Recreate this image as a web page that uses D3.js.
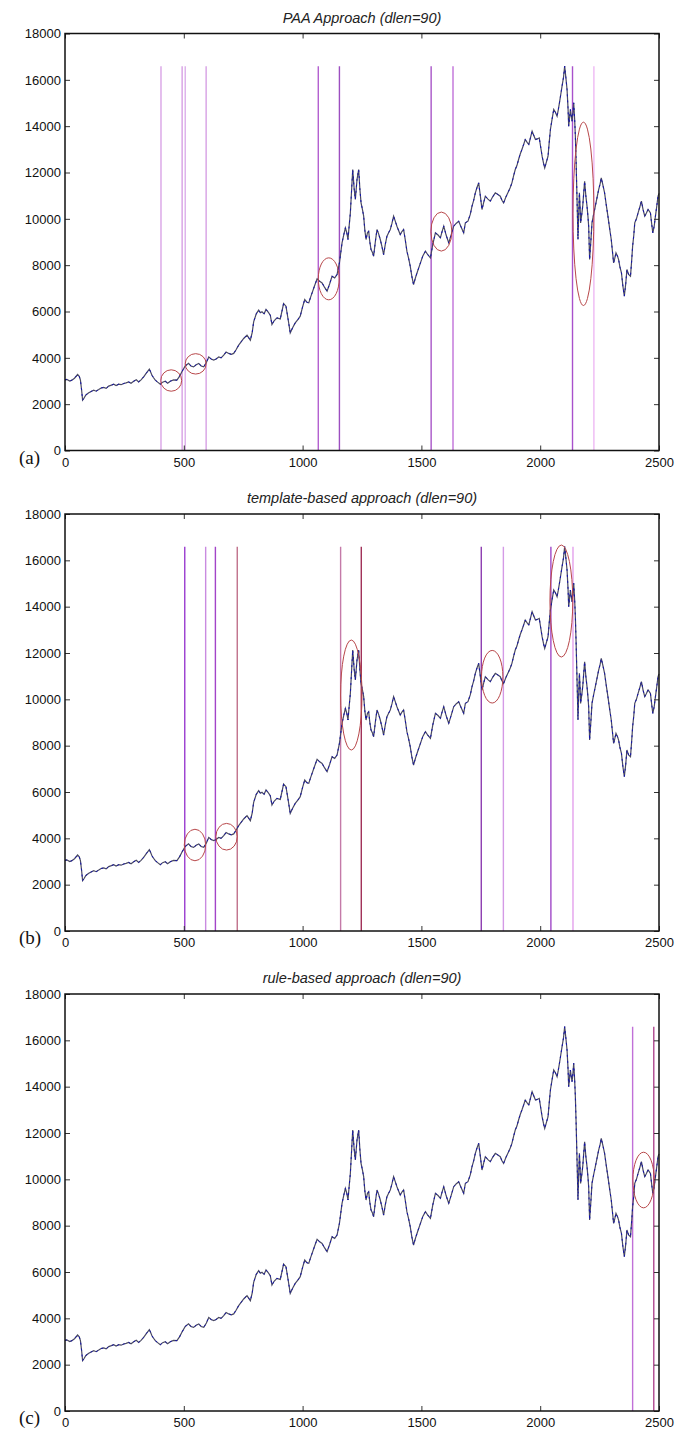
<!DOCTYPE html>
<html>
<head>
<meta charset="utf-8">
<title>dlen=90</title>
<script src="https://d3js.org/d3.v7.min.js"></script>
<style>
  body { margin: 0; background: #fff; }
  svg { display: block; }
  .tick text { font-family: "Liberation Sans", Arial, sans-serif; font-size: 13px; fill: #111; }
  .tick line { stroke: #333; }
</style>
</head>
<body>
<script>
// series (day index, index level)
var day = [0, 8, 20, 29, 40, 53, 60, 65, 70, 74, 79, 88, 100, 110, 121, 131, 142, 152, 163, 173,
  184, 195, 205, 215, 226, 236, 247, 257, 268, 278, 289, 300, 310, 320, 331, 343, 355, 360, 366, 372,
  380, 390, 401, 411, 422, 432, 443, 457, 471, 482, 492, 506, 520, 530, 541, 552, 563, 573, 584, 595,
  605, 615, 626, 636, 647, 657, 668, 678, 689, 700, 710, 720, 731, 742, 752, 766, 773, 780, 788, 794,
  805, 815, 822, 829, 838, 846, 856, 864, 871, 880, 892, 906, 915, 920, 930, 940, 948, 958, 969, 980,
  990, 1000, 1009, 1018, 1026, 1033, 1040, 1050, 1061, 1072, 1082, 1092, 1103, 1114, 1124, 1135, 1145, 1155, 1166, 1173,
  1180, 1186, 1191, 1196, 1201, 1206, 1211, 1217, 1222, 1229, 1236, 1241, 1246, 1252, 1257, 1262, 1267, 1273, 1278, 1283,
  1288, 1294, 1299, 1306, 1313, 1320, 1327, 1334, 1341, 1348, 1355, 1362, 1369, 1376, 1383, 1390, 1397, 1404, 1411, 1418,
  1425, 1432, 1439, 1446, 1453, 1460, 1467, 1472, 1477, 1486, 1496, 1506, 1517, 1527, 1538, 1548, 1559, 1570, 1580, 1587,
  1594, 1604, 1615, 1625, 1636, 1646, 1657, 1667, 1678, 1685, 1696, 1706, 1713, 1720, 1727, 1734, 1741, 1748, 1755, 1762,
  1769, 1780, 1790, 1800, 1811, 1822, 1832, 1839, 1846, 1856, 1867, 1874, 1881, 1888, 1895, 1902, 1909, 1916, 1923, 1930,
  1937, 1945, 1952, 1959, 1966, 1973, 1980, 1988, 1996, 2002, 2008, 2014, 2019, 2026, 2033, 2038, 2043, 2050, 2057, 2064,
  2071, 2076, 2081, 2087, 2092, 2098, 2103, 2108, 2113, 2117, 2120, 2124, 2127, 2130, 2134, 2138, 2141, 2145, 2148, 2151,
  2154, 2157, 2159, 2162, 2165, 2168, 2170, 2175, 2179, 2183, 2187, 2192, 2197, 2201, 2204, 2208, 2213, 2218, 2225, 2232,
  2239, 2246, 2252, 2257, 2264, 2271, 2278, 2285, 2292, 2299, 2304, 2309, 2314, 2319, 2325, 2330, 2336, 2342, 2348, 2354,
  2360, 2365, 2372, 2380, 2385, 2389, 2394, 2398, 2405, 2412, 2419, 2426, 2433, 2440, 2447, 2454, 2459, 2464, 2469, 2474,
  2480, 2485, 2490, 2496, 2500];
var price = [3050, 3065, 3000, 3036, 3120, 3280, 3200, 3036, 2600, 2173, 2245, 2400, 2490, 2550, 2600, 2560, 2630, 2700, 2720, 2680,
  2780, 2820, 2860, 2800, 2860, 2840, 2890, 2920, 2960, 2900, 2990, 3050, 2960, 3050, 3180, 3350, 3510, 3400, 3250, 3150,
  3036, 2950, 2860, 2950, 2990, 2900, 2990, 3050, 3036, 3200, 3400, 3650, 3760, 3650, 3610, 3700, 3760, 3650, 3610, 3800,
  4040, 3950, 3900, 3950, 4040, 4000, 4115, 4250, 4190, 4150, 4190, 4350, 4550, 4700, 4835, 4980, 4870, 4760, 5100, 5555,
  5900, 6060, 5950, 5990, 5900, 6090, 5960, 5840, 5437, 5600, 5725, 5680, 6100, 6345, 6230, 5600, 5078, 5300, 5510, 5650,
  5800, 6200, 6517, 6400, 6373, 6600, 6805, 7100, 7409, 7300, 7236, 7050, 6877, 7200, 7524, 7450, 7596, 8100, 8963, 9300,
  9610, 9400, 9107, 9700, 10258, 11200, 12128, 11300, 10833, 11697, 12128, 11300, 10690, 10400, 10114, 9500, 9107, 9400, 9466, 9000,
  8675, 8550, 8387, 9000, 9539, 9350, 9107, 8800, 8459, 8900, 9251, 9400, 9539, 9800, 10114, 9900, 9683, 9500, 9323, 9450,
  9539, 9100, 8603, 8300, 7956, 7500, 7164, 7350, 7524, 7800, 8100, 8400, 8603, 8450, 8315, 8900, 9395, 9300, 9179, 9450,
  9683, 9300, 8963, 9300, 9683, 9800, 9898, 9650, 9395, 9826, 9898, 10200, 10546, 10800, 11121, 11350, 11553, 11000, 10402, 10700,
  10978, 10850, 10762, 10950, 11121, 11050, 10978, 10800, 10690, 10950, 11193, 11350, 11553, 11850, 12128, 12300, 12560, 12800, 12992, 13200,
  13424, 13300, 13208, 13500, 13784, 13600, 13424, 13450, 13496, 13100, 12704, 12400, 12200, 12450, 12704, 13300, 13856, 14300, 14719, 14600,
  14431, 14700, 15007, 15400, 15726, 16100, 16590, 16100, 15582, 14800, 14000, 14400, 14719, 14500, 14215, 14600, 15007, 14300, 13568, 12500,
  11265, 10000, 9107, 10200, 11121, 10500, 9826, 10200, 10546, 11100, 11625, 11000, 10546, 10100, 9683, 8243, 9000, 9826, 10200, 10546,
  10900, 11265, 11500, 11769, 11450, 11121, 10600, 10114, 9600, 9107, 8600, 8099, 8300, 8531, 8400, 8243, 7900, 7668, 7100, 6661,
  7200, 7812, 7600, 7524, 8200, 8819, 9300, 9826, 10000, 10258, 10500, 10762, 10400, 10114, 10250, 10402, 10330, 10258, 9800, 9395,
  9700, 10114, 10500, 10978, 11100];

// tick labels
var xTicks = [0, 500, 1000, 1500, 2000, 2500];
var yTicks = [0, 2000, 4000, 6000, 8000, 10000, 12000, 14000, 16000, 18000];

// panel titles and letters
var titles = ["PAA Approach (dlen=90)", "template-based approach (dlen=90)", "rule-based approach (dlen=90)"];
var letters = ["(a)", "(b)", "(c)"];

// detected segment boundaries per panel (day index)
var marksA = [404, 493, 506, 594, 1066, 1155, 1541, 1633, 2136, 2226];
var marksB = [504, 592, 633, 725, 1160, 1247, 1752, 1845, 2045, 2138];
var marksC = [2389, 2478];

// highlighted regions: [centre day, centre level, half width (days), half height (level)]
var circlesA = [[447, 3021, 44, 462], [550, 3740, 44, 440], [1110, 7410, 44, 906], [1584, 9450, 44, 842], [2182, 10215, 44, 3958]];
var circlesB = [[547, 3712, 45, 680], [680, 4070, 45, 575], [1205, 10186, 45, 2374], [1798, 10976, 45, 1135], [2089, 14243, 48, 2417]];
var circlesC = [[2435, 9970, 45, 1200]];

var colorsA = ["#d9a3e6", "#d7a0e4", "#dcaeea", "#d6a0e4", "#b35fd0", "#9c4fc0", "#a855c8", "#c070d8", "#a851cc", "#eeb8f4"];
var colorsB = ["#9a3ccf", "#c98be0", "#a244c8", "#c0708a", "#c47aa8", "#a03058", "#8c3cb0", "#d49ae6", "#a048c8", "#e4a0ec"];
var colorsC = ["#c070d8", "#b04890"];

var W = 684, H = 1429;
var left = 65, right = 659;

var svg = d3.select("body").append("svg")
    .attr("width", W)
    .attr("height", H);

var series = d3.zip(day, price);
var topLevel = d3.max(price);

drawPanel(33.5, titles[0], letters[0], marksA, colorsA, circlesA);
drawPanel(514, titles[1], letters[1], marksB, colorsB, circlesB);
drawPanel(994, titles[2], letters[2], marksC, colorsC, circlesC);

function drawPanel(top, title, letter, marks, colors, circles){

    var bottom = top + 417;
    var g = svg.append("g");

    var x = d3.scaleLinear().domain([0, 2500]).range([left, right]);
    var y = d3.scaleLinear().domain([0, 18000]).range([bottom, top]);

    // title
    g.append("text")
        .text(title)
        .attr("x", (left + right) / 2)
        .attr("y", top - 11)
        .attr("text-anchor", "middle")
        .attr("font-family", "Liberation Sans, Arial, sans-serif")
        .attr("font-style", "italic")
        .attr("font-size", "14.5px")
        .attr("fill", "#222");

    // vertical segment markers
    g.selectAll(".mark")
        .data(marks)
        .enter()
        .append("line")
        .attr("class", "mark")
        .attr("x1", function(d) { return x(d); })
        .attr("x2", function(d) { return x(d); })
        .attr("y1", y(0))
        .attr("y2", y(topLevel))
        .attr("stroke", function(d, i) { return colors[i]; })
        .attr("stroke-width", 1.4);

    // the series
    var line = d3.line()
        .x(function(d) { return x(d[0]); })
        .y(function(d) { return y(d[1]); });

    g.append("path")
        .datum(series)
        .attr("d", line)
        .attr("fill", "none")
        .attr("stroke", "#4a4a62")
        .attr("stroke-width", 1.2);

    g.append("path")
        .datum(series)
        .attr("d", line)
        .attr("fill", "none")
        .attr("stroke", "#1010b0")
        .attr("stroke-width", 1)
        .attr("stroke-dasharray", "2,4");

    // highlighted regions
    g.selectAll(".ring")
        .data(circles)
        .enter()
        .append("ellipse")
        .attr("class", "ring")
        .attr("cx", function(d) { return x(d[0]); })
        .attr("cy", function(d) { return y(d[1]); })
        .attr("rx", function(d) { return x(d[2]) - x(0); })
        .attr("ry", function(d) { return y(0) - y(d[3]); })
        .attr("fill", "none")
        .attr("stroke", "#b8474a")
        .attr("stroke-width", 1);

    // axes, ticks pointing inwards
    var fmt = d3.format("d");

    g.append("g")
        .attr("transform", "translate(0," + bottom + ")")
        .call(d3.axisBottom(x).tickValues(xTicks).tickFormat(fmt).tickSize(-5).tickPadding(7))
        .call(function(a) { a.select(".domain").remove(); });

    g.append("g")
        .attr("transform", "translate(" + left + ",0)")
        .call(d3.axisLeft(y).tickValues(yTicks).tickFormat(fmt).tickSize(-5).tickPadding(4))
        .call(function(a) { a.select(".domain").remove(); });

    g.append("g")
        .attr("transform", "translate(0," + top + ")")
        .call(d3.axisTop(x).tickValues(xTicks).tickSize(-5).tickFormat(""))
        .call(function(a) { a.select(".domain").remove(); });

    g.append("g")
        .attr("transform", "translate(" + right + ",0)")
        .call(d3.axisRight(y).tickValues(yTicks).tickSize(-5).tickFormat(""))
        .call(function(a) { a.select(".domain").remove(); });

    // box
    g.append("rect")
        .attr("x", left)
        .attr("y", top)
        .attr("width", right - left)
        .attr("height", bottom - top)
        .attr("fill", "none")
        .attr("stroke", "#111")
        .attr("stroke-width", 1.5);

    // panel letter
    g.append("text")
        .text(letter)
        .attr("x", 19)
        .attr("y", bottom + 13)
        .attr("font-family", "Liberation Serif, Times New Roman, serif")
        .attr("font-size", "19px")
        .attr("fill", "#111");
}
</script>
</body>
</html>
